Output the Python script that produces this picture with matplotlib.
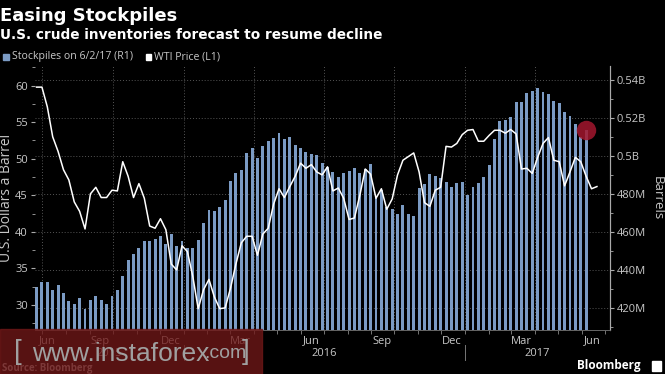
import datetime as dt
import matplotlib
matplotlib.use("Agg")
import matplotlib.pyplot as plt
import matplotlib.dates as mdates
from matplotlib.patches import Rectangle

# weekly data, first week 24 Jun 2015
first_week = dt.date(2015, 6, 24)

# crude stockpiles, millions of barrels (right axis)
stockpiles = [431.1, 433.5, 433.8, 429.5, 432.1, 428.0, 423.4, 422.1, 425.0, 419.5,
              423.9, 426.2, 424.2, 422.1, 426.3, 429.2, 436.8, 445.1, 448.2, 451.3,
              454.9, 455.3, 456.1, 457.6, 453.7, 458.7, 452.5, 455.3, 451.3, 451.3,
              455.5, 464.4, 471.6, 470.8, 472.9, 476.6, 486.7, 490.8, 492.5, 501.8,
              504.2, 498.9, 505.4, 507.7, 509.4, 512.3, 508.8, 509.9, 505.9, 504.4,
              502.1, 501.2, 500.4, 496.4, 494.2, 491.4, 489.0, 490.8, 492.1, 493.5,
              490.8, 493.2, 495.5, 478.9, 482.0, 473.2, 472.0, 469.4, 474.1, 469.2,
              468.5, 482.9, 485.1, 490.4, 489.4, 488.5, 486.0, 483.5, 485.7, 486.4,
              479.4, 483.5, 485.6, 488.7, 495.1, 508.9, 518.5, 518.9, 520.7, 528.6,
              528.4, 533.3, 534.2, 535.9, 533.8, 532.6, 528.9, 527.7, 523.0, 521.0,
              516.7, 510.1, 513.6]

# WTI price, dollars a barrel (left axis)
wti = [59.8, 59.8, 57.1, 53.0, 51.0, 48.5, 47.1, 44.1, 42.8, 40.4,
       45.2, 46.1, 44.7, 44.7, 45.7, 45.6, 49.6, 47.6, 44.7, 46.6,
       44.6, 40.8, 40.5, 41.8, 40.3, 35.6, 34.8, 38.1, 37.3, 33.9,
       29.5, 32.1, 33.5, 31.1, 29.5, 29.6, 32.3, 35.6, 38.5, 39.4,
       39.4, 36.8, 39.7, 40.5, 43.8, 45.9, 44.7, 46.2, 47.6, 49.4,
       48.7, 49.2, 48.2, 47.8, 48.9, 45.6, 46.0, 44.6, 41.7, 41.9,
       45.0, 48.6, 47.9, 44.6, 45.9, 43.1, 44.5, 47.8, 49.8, 50.3,
       50.8, 48.2, 44.0, 43.5, 45.7, 46.1, 51.7, 51.6, 52.1, 53.3,
       53.9, 54.0, 52.4, 52.4, 53.2, 53.9, 53.9, 53.5, 54.0, 53.4,
       48.6, 48.7, 48.0, 50.2, 52.1, 52.9, 49.8, 49.6, 46.3, 48.2,
       50.2, 49.6, 47.6, 45.9, 46.2]

month_labels = ["Jun", "Sep", "Dec", "Mar", "Jun", "Sep", "Dec", "Mar", "Jun"]
# first Jun label is pushed inside the axis like the original
month_label_dates = [dt.date(2015, 7, 8), dt.date(2015, 9, 15), dt.date(2015, 12, 15),
                     dt.date(2016, 3, 15), dt.date(2016, 6, 15), dt.date(2016, 9, 15),
                     dt.date(2016, 12, 15), dt.date(2017, 3, 15), dt.date(2017, 6, 15)]
years = [2015, 2016, 2017]
right_ticks = [420, 440, 460, 480, 500, 520, 540]
right_labels = ["420M", "440M", "460M", "480M", "0.5B", "0.52B", "0.54B"]
left_ticks = [30, 35, 40, 45, 50, 55, 60]

bar_dates = [first_week + dt.timedelta(weeks=i) for i in range(len(stockpiles))]
wti_dates = [first_week + dt.timedelta(weeks=i) for i in range(len(wti))]

BG = "black"
BAR = "#7b9bc4"
TXT = "#c8c8c8"
plt.rcParams["font.family"] = ["Open Sans", "DejaVu Sans"]

fig = plt.figure(figsize=(6.65, 3.74), dpi=100, facecolor=BG)
ax2 = fig.add_axes([35 / 665, 1 - 330 / 374, 575 / 665, 264 / 374])
ax = ax2.twinx()
ax2.yaxis.tick_right()
ax2.yaxis.set_label_position("right")
ax.yaxis.tick_left()
ax.yaxis.set_label_position("left")
ax2.set_facecolor(BG)
ax.set_zorder(ax2.get_zorder() + 1)
ax.patch.set_visible(False)

# bars on the right axis
ax2.bar(bar_dates, stockpiles, width=3.8, color=BAR, zorder=2)
ax2.plot(bar_dates[-1], stockpiles[-1], "o", ms=14, color="#a3172f", alpha=0.85, zorder=4,
         markeredgewidth=0)
ax2.set_ylim(408.25, 547.4)
ax2.set_yticks(right_ticks)
ax2.set_yticklabels(right_labels)
ax2.set_yticks([410, 430, 450, 470, 490, 510, 530], minor=True)
ax2.grid(axis="y", color="#555555", ls=(0, (1, 2)), lw=0.7, zorder=0)

xmin = first_week - dt.timedelta(days=2.2)
xmax = first_week + dt.timedelta(days=745)
ax2.set_xlim(xmin, xmax)
for d in [dt.date(2015, 7, 1), dt.date(2015, 10, 1), dt.date(2016, 1, 1), dt.date(2016, 4, 1),
          dt.date(2016, 7, 1), dt.date(2016, 10, 1), dt.date(2017, 1, 1), dt.date(2017, 4, 1)]:
    ax2.axvline(d, color="#555555", ls=(0, (1, 2)), lw=0.7, zorder=0)

# price line on the left axis
ax.plot(wti_dates, wti, color="white", lw=1.1, zorder=3)
ax.set_ylim(26.58, 62.69)
ax.set_yticks(left_ticks)
ax.set_yticks([27.5, 32.5, 37.5, 42.5, 47.5, 52.5, 57.5, 62.5], minor=True)
ax.set_xlim(xmin, xmax)

ax2.set_xticks(month_label_dates)
ax2.set_xticklabels(month_labels)
ax2.xaxis.set_minor_locator(mdates.MonthLocator())
ax2.tick_params(axis="x", which="major", length=0, pad=4, labelsize=8, labelcolor=TXT)
ax2.tick_params(axis="x", which="minor", length=3, color="#888888")
ax2.tick_params(axis="y", which="both", colors="#aaaaaa", labelcolor=TXT, labelsize=8,
                length=3, pad=2)
ax2.tick_params(axis="y", which="minor", length=2)
ax.tick_params(axis="y", which="both", colors="#aaaaaa", labelcolor=TXT, labelsize=8,
               length=3, pad=2)
ax.tick_params(axis="y", which="minor", length=2)

for a in (ax, ax2):
    for s in ("top", "left"):
        a.spines[s].set_visible(False)
    a.spines["right"].set_color("#aaaaaa")
    a.spines["bottom"].set_color("#666666")
    a.spines["bottom"].set_linewidth(0.6)

ax.set_ylabel("U.S. Dollars a Barrel", color=TXT, fontsize=10)
ax.yaxis.set_label_coords(-0.036, 0.5)
ax2.set_ylabel("Barrels", color=TXT, fontsize=9.5, rotation=270)
ax2.yaxis.set_label_coords(1.093, 0.5)

# year labels centred on the visible part of each year
xl = ax2.get_xlim()
for y in years:
    a0 = max(mdates.date2num(dt.date(y, 1, 1)), xl[0])
    a1 = min(mdates.date2num(dt.date(y + 1, 1, 1)), xl[1])
    ax2.text((a0 + a1) / 2, -0.088, str(y), transform=ax2.get_xaxis_transform(),
             ha="center", va="center", color=TXT, fontsize=8)
    if y > years[0]:
        ax2.plot([mdates.date2num(dt.date(y, 1, 1))] * 2, [-0.055, -0.115],
                 transform=ax2.get_xaxis_transform(), color="#777777", lw=0.7, clip_on=False)

# titles and legend
fig.text(0.0, 1 - 20.7 / 374, "Easing Stockpiles", color="white", fontsize=13,
         fontweight="bold", va="baseline", family=["DejaVu Sans"])
fig.text(0.0, 1 - 39.3 / 374, "U.S. crude inventories forecast to resume decline",
         color="white", fontsize=9.8, fontweight="bold", va="baseline", family=["DejaVu Sans"])
fig.patches.append(Rectangle((3.3 / 665, 1 - 60 / 374), 6 / 665, 6 / 374,
                             transform=fig.transFigure, color=BAR))
fig.text(12.3 / 665, 1 - 57 / 374, "Stockpiles on 6/2/17 (R1)", color=TXT, fontsize=7.6,
         va="center")
fig.patches.append(Rectangle((145.7 / 665, 1 - 60 / 374), 5.5 / 665, 6 / 374,
                             transform=fig.transFigure, color="white"))
fig.text(154 / 665, 1 - 57 / 374, "WTI Price (L1)", color=TXT, fontsize=7.6, va="center")

fig.text(2 / 665, 1 - 368 / 374, "Source: Bloomberg", color="#aaaaaa", fontsize=7,
         fontweight="bold", va="center")
fig.text(641 / 665, 1 - 366 / 374, "Bloomberg", color="white", fontsize=8.5,
         fontweight="bold", va="center", ha="right")
fig.patches.append(Rectangle((652 / 665, 1 - 371 / 374), 9 / 665, 10 / 374,
                             transform=fig.transFigure, color="white"))

# watermark
fig.patches.append(Rectangle((0, 0), 262 / 665, 45 / 374, transform=fig.transFigure,
                             color="#701818", alpha=0.78, zorder=10))
wm = dict(color="#a0a0a0", va="center", family=["Liberation Sans", "DejaVu Sans"], zorder=11)
fig.text(14 / 665, 1 - 352 / 374, "[", fontsize=20, **wm)
fig.text(32 / 665, 1 - 354 / 374, "www.instaforex", fontsize=19, **wm)
fig.text(204 / 665, 1 - 354 / 374, ".com", fontsize=14, **wm)
fig.text(242 / 665, 1 - 352 / 374, "]", fontsize=20, **wm)

fig.savefig("out.png", dpi=100, facecolor=BG)
